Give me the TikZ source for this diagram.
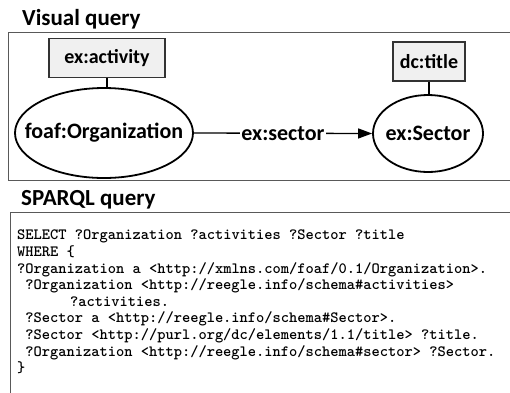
\documentclass[tikz,border=0pt]{standalone}
\usepackage{fontspec}
\setmainfont{Carlito}
\usetikzlibrary{shapes.geometric,arrows.meta}
\tikzset{
  heading/.style={anchor=base west, font=\bfseries\fontsize{23}{26}\selectfont, inner sep=0pt},
  panel/.style={draw=black!65, line width=0.9pt},
  prop/.style={draw=black!80, line width=1.3pt, fill=black!6, minimum height=39pt,
    font=\bfseries\fontsize{20}{24}\selectfont, inner sep=3pt},
  cls/.style={ellipse, draw=black, line width=1.8pt, inner sep=0pt},
  clstext/.style={font=\bfseries\fontsize{22}{26}\selectfont, inner sep=0pt},
  link/.style={line width=1.2pt, black},
  edge/.style={line width=1.3pt, -{Triangle[length=14pt,width=10pt]}}
}
\begin{document}
\begin{tikzpicture}[x=1pt,y=-1pt]
\useasboundingbox (0,0) rectangle (510,392);
\fill[white] (0,0) rectangle (510,392);

% Visual query panel
\node[heading] (vqtitle) at (22,25) {Visual query};
\draw[panel] (515,32) -- (8,32) -- (8,180) -- (515,180);

\node[prop, minimum width=116pt] (activity) at (107,58) {ex:activity};
\node[prop, minimum width=72pt] (dctitle) at (429,61.5) {dc:title};
\node[cls, minimum width=178pt, minimum height=90pt] (org) at (104,133) {};
\node[clstext] (orgtext) at (org.center) {foaf:Organization};
\node[cls, minimum width=110pt, minimum height=77pt] (sector) at (428,133.5) {};
\node[clstext] (sectortext) at (sector.center) {ex:Sector};

\draw[link] (activity.south) -- (activity.south |- org.north);
\draw[link] (dctitle.south) -- (dctitle.south |- sector.north);
\draw[edge] (org.east) -- node[fill=white, inner sep=1pt,
  font=\bfseries\fontsize{22}{26}\selectfont] (rel) {ex:sector} (sector.west);

% SPARQL query panel
\node[heading] (sqtitle) at (21,205) {SPARQL query};
\draw[panel] (10,395) -- (10,212) -- (515,212);

\node[anchor=north west, align=left, inner sep=0pt,
  font=\ttfamily\bfseries\fontsize{15.7}{16.6}\selectfont, text=black] (code) at (17,230)
{SELECT ?Organization ?activities ?Sector ?title\\
WHERE \{\\
?Organization a <http://xmlns.com/foaf/0.1/Organization>.\\
\ ?Organization <http://reegle.info/schema\#activities>\\
\hspace*{53pt}?activities.\\
\ ?Sector a <http://reegle.info/schema\#Sector>.\\
\ ?Sector <http://purl.org/dc/elements/1.1/title> ?title.\\
\ ?Organization <http://reegle.info/schema\#sector> ?Sector.\\
\}};
\end{tikzpicture}
\end{document}
